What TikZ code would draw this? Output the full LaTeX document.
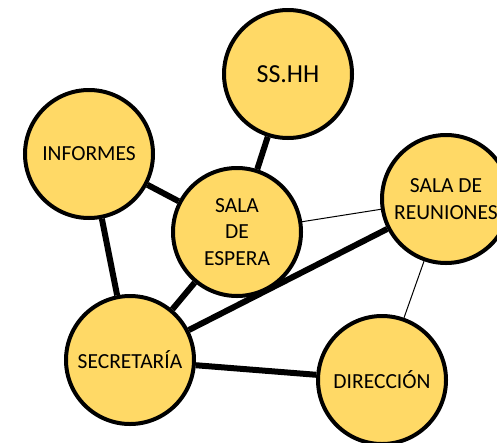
\documentclass[tikz,border=0pt]{standalone}
\usepackage{fontspec}
\setmainfont{Carlito}
\definecolor{roomfill}{HTML}{FFD966}

\begin{document}
\begin{tikzpicture}[x=1pt,y=-1pt,
  room/.style={circle, draw, line width=4pt, fill=roomfill, minimum size=128pt,
    inner sep=0pt, align=center, font=\fontsize{21.5}{26.5}\selectfont},
  link/.style={line width=6pt},
  weak/.style={line width=1pt}]
  \useasboundingbox (0,0) rectangle (497,442);
  % rooms
  \node[room, font=\fontsize{26}{30}\selectfont] (hh) at (288,74) {SS.HH};
  \node[room] (inf) at (89,154) {INFORMES};
  \node[room] (esp) at (237,232) {SALA\\DE\\ESPERA};
  \node[room] (reu) at (446,199) {SALA DE\\REUNIONES};
  \node[room] (sec) at (130,360) {SECRETARÍA};
  \node[room] (dir) at (382,380) {DIRECCIÓN};
  % links
  \draw[link] (hh) -- (esp);
  \draw[link] (inf) -- (esp);
  \draw[link] (inf) -- (sec);
  \draw[link] (esp) -- (sec);
  \draw[link] (reu) -- (sec);
  \draw[link] (sec) -- (dir);
  \draw[weak] (esp) -- (reu);
  \draw[weak] (reu) -- (dir);
\end{tikzpicture}
\end{document}
